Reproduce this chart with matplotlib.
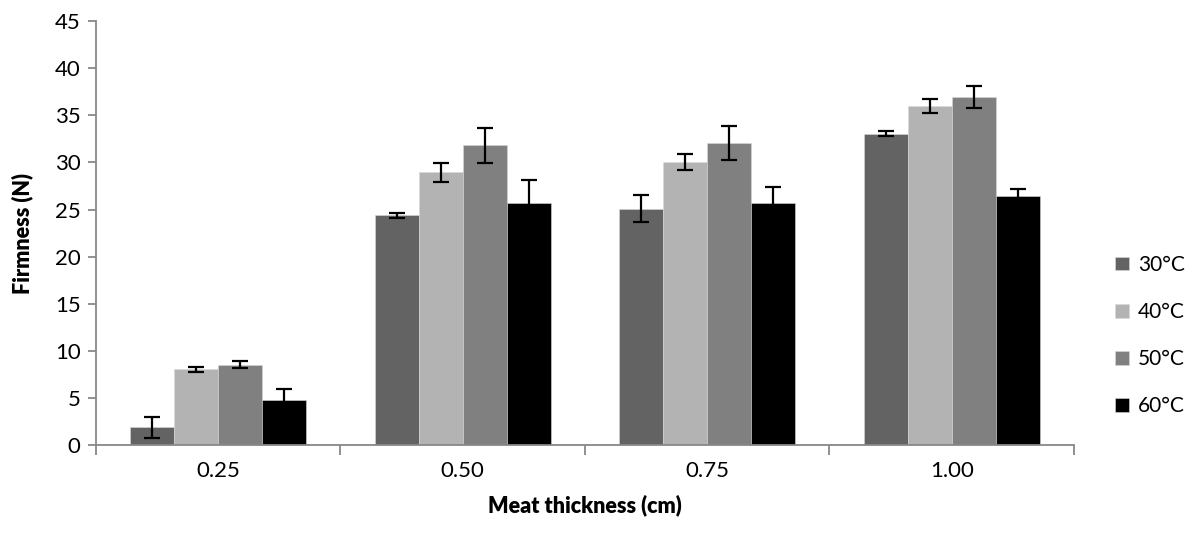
import matplotlib.pyplot as plt
import numpy as np

plt.rcParams['font.family'] = ['Lato', 'DejaVu Sans']

thickness = ['0.25', '0.50', '0.75', '1.00']
temps = ['30°C', '40°C', '50°C', '60°C']
firm_30 = [1.85, 24.4, 25.1, 33.05]
firm_40 = [8.0, 28.95, 30.05, 36.05]
firm_50 = [8.5, 31.85, 32.05, 36.95]
firm_60 = [4.8, 25.7, 25.7, 26.4]
err_30 = [1.1, 0.27, 1.4, 0.25]
err_40 = [0.3, 0.98, 0.81, 0.74]
err_50 = [0.39, 1.86, 1.82, 1.19]
err_60 = [1.07, 2.4, 1.7, 0.78]

series = [firm_30, firm_40, firm_50, firm_60]
errors = [err_30, err_40, err_50, err_60]
colors = ['#636363', '#b3b3b3', '#808080', '#000000']

fig = plt.figure(figsize=(11.95, 5.34), dpi=100)
ax = fig.add_axes([0.0803, 0.1672, 0.8184, 0.7928])

x = np.arange(len(thickness))
w = 0.18
for i, (vals, errs) in enumerate(zip(series, errors)):
    pos = x + (i - 1.5) * w
    ax.bar(pos, vals, width=w, color=colors[i], label=temps[i],
           edgecolor='#d8d8d8', linewidth=0.4, zorder=2)
    ax.errorbar(pos, vals, yerr=errs, fmt='none', ecolor='black',
                elinewidth=1.6, capsize=6, capthick=1.6, zorder=3)

ax.set_xlim(-0.5, 3.5)
ax.set_ylim(0, 45)
ax.set_yticks(range(0, 46, 5))
ax.set_xticks(x)
ax.set_xticklabels(thickness)
ax.set_xticks(np.arange(-0.5, 3.6, 1), minor=True)
ax.tick_params(axis='x', which='major', length=0, pad=12, labelsize=16)
ax.tick_params(axis='x', which='minor', length=7, width=1.3, color='#888888')
ax.tick_params(axis='y', length=6, width=1.3, color='#888888', labelsize=16, pad=5)

for s in ['top', 'right']:
    ax.spines[s].set_visible(False)
for s in ['left', 'bottom']:
    ax.spines[s].set_color('#888888')
    ax.spines[s].set_linewidth(1.3)

ax.set_xlabel('Meat thickness (cm)', fontsize=15.5, fontweight='heavy', labelpad=9)
ax.set_ylabel('Firmness (N)', fontsize=15.5, fontweight='heavy', labelpad=16)

leg = ax.legend(loc='center left', bbox_to_anchor=(1.023, 0.258), frameon=False,
                fontsize=15, handlelength=0.65, handleheight=0.65,
                handletextpad=0.45, labelspacing=1.3)

fig.savefig('out.png', dpi=100)
